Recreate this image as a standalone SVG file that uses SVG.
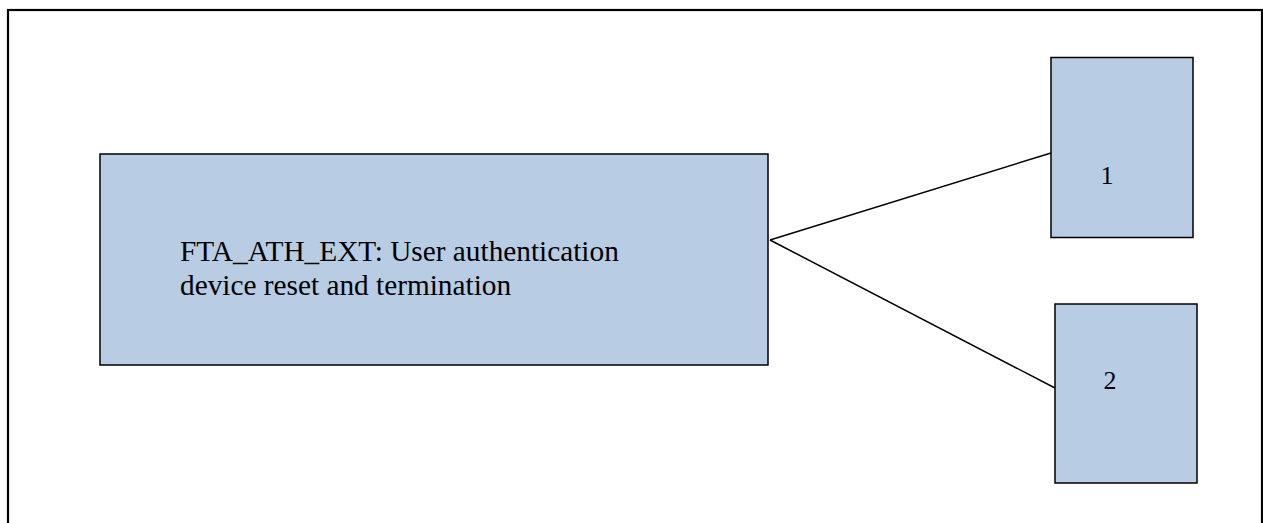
<svg xmlns="http://www.w3.org/2000/svg" width="1263" height="523" viewBox="0 0 1263 523">
<style>
.node{fill:#b8cce4;stroke:#000;stroke-width:1.5}
.t{font-family:"Liberation Serif","DejaVu Serif",serif;font-size:29.3px;fill:#000}
.n{font-family:"Liberation Serif","DejaVu Serif",serif;font-size:26px;fill:#000;text-anchor:middle}
.edge{stroke:#000;stroke-width:1.5;fill:none}
</style>
<rect x="8" y="10" width="1254" height="520" fill="#fff" stroke="#000" stroke-width="2.2"/>
<g id="connectors">
<line class="edge" x1="770" y1="240" x2="1051" y2="153"/>
<line class="edge" x1="770" y1="240" x2="1055" y2="388"/>
</g>
<g id="main">
<rect class="node" x="100" y="154" width="668" height="211"/>
<text class="t" x="180" y="261">FTA_ATH_EXT: User authentication</text>
<text class="t" x="180" y="295">device reset and termination</text>
</g>
<g id="n1">
<rect class="node" x="1051" y="57.5" width="142" height="180"/>
<text class="n" x="1107" y="184">1</text>
</g>
<g id="n2">
<rect class="node" x="1055" y="304" width="142" height="179"/>
<text class="n" x="1110" y="389">2</text>
</g>
</svg>
